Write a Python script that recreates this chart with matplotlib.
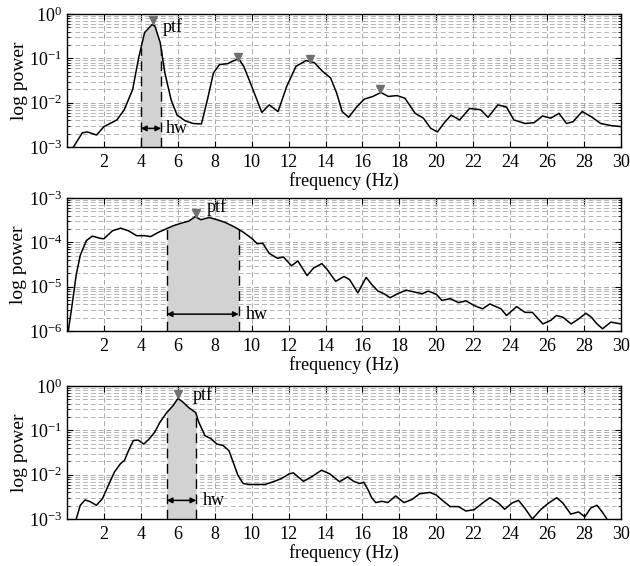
import numpy as np
import matplotlib
matplotlib.use("Agg")
import matplotlib.pyplot as plt
from matplotlib.ticker import LogLocator, LogFormatterMathtext, NullFormatter

plt.rcParams['font.family'] = ['Liberation Serif', 'DejaVu Serif']
plt.rcParams['mathtext.fontset'] = 'custom'
plt.rcParams['mathtext.rm'] = 'Liberation Serif'
plt.rcParams['mathtext.it'] = 'Liberation Serif:italic'
plt.rcParams['axes.unicode_minus'] = False

# ---------------- data (log10 power) ----------------
f1 = [0.2, 0.35, 0.83, 1.1, 1.6, 2.0, 2.7, 3.1, 3.55, 3.9, 4.2, 4.6, 4.76, 5.05, 5.3, 5.64,
      5.96, 6.4, 6.84, 7.28, 7.6, 7.93, 8.26, 8.7, 9.0, 9.3, 9.57, 10.0, 10.55, 10.95, 11.43,
      11.9, 12.4, 12.95, 13.4, 13.83, 14.27, 14.6, 14.9, 15.25, 15.7, 16.1, 16.56, 17.0, 17.4,
      17.87, 18.3, 18.85, 19.3, 19.7, 20.06, 20.4, 20.8, 21.26, 21.8, 22.4, 22.8, 23.33, 23.8,
      24.2, 24.8, 25.3, 25.75, 26.2, 26.64, 27.05, 27.4, 27.9, 28.4, 28.9, 29.5, 30.0]
p1 = [-3.3, -3.0, -2.68, -2.66, -2.73, -2.54, -2.39, -2.16, -1.71, -0.95, -0.42, -0.24, -0.27,
      -0.65, -1.33, -1.94, -2.28, -2.41, -2.47, -2.48, -1.94, -1.33, -1.14, -1.12, -1.06, -1.01,
      -1.18, -1.63, -2.22, -2.05, -2.2, -1.63, -1.18, -1.05, -1.1, -1.29, -1.44, -1.78, -2.2,
      -2.33, -2.09, -1.92, -1.86, -1.77, -1.86, -1.84, -1.9, -2.24, -2.35, -2.58, -2.66, -2.47,
      -2.28, -2.39, -2.13, -2.16, -2.33, -2.05, -2.1, -2.39, -2.47, -2.45, -2.3, -2.35, -2.24,
      -2.47, -2.43, -2.2, -2.32, -2.47, -2.52, -2.54]

f2 = [0.07, 0.28, 0.5, 0.72, 1.05, 1.37, 1.8, 2.0, 2.46, 2.9, 3.33, 3.77, 4.2, 4.53, 4.97, 5.3,
      5.73, 6.17, 6.6, 6.95, 7.25, 7.7, 8.13, 8.56, 9.1, 9.54, 10.0, 10.3, 10.6, 10.95, 11.4,
      11.72, 12.16, 12.5, 13.0, 13.35, 13.8, 14.1, 14.55, 15.0, 15.3, 15.75, 16.2, 16.5, 16.84,
      17.17, 17.5, 17.9, 18.37, 18.8, 19.24, 19.56, 20.0, 20.3, 20.76, 21.2, 21.6, 22.07, 22.5,
      22.9, 23.5, 23.8, 24.35, 24.8, 25.2, 25.77, 26.2, 26.5, 26.86, 27.3, 27.7, 28.1, 28.4,
      28.7, 29.0, 29.45, 30.0]
p2 = [-6.0, -5.4, -4.73, -4.29, -3.96, -3.86, -3.91, -3.92, -3.74, -3.68, -3.74, -3.85, -3.85,
      -3.87, -3.77, -3.71, -3.63, -3.57, -3.52, -3.42, -3.49, -3.44, -3.49, -3.55, -3.66, -3.77,
      -3.91, -4.03, -4.02, -4.25, -4.36, -4.33, -4.53, -4.42, -4.75, -4.58, -4.48, -4.62, -4.88,
      -4.77, -4.84, -5.14, -4.79, -4.95, -5.1, -5.16, -5.25, -5.16, -5.08, -5.12, -5.16, -5.1,
      -5.17, -5.31, -5.27, -5.36, -5.32, -5.43, -5.5, -5.39, -5.5, -5.65, -5.45, -5.58, -5.58,
      -5.84, -5.76, -5.65, -5.69, -5.84, -5.73, -5.6, -5.69, -5.84, -5.95, -5.8, -5.84]

f3 = [0.3, 0.5, 0.72, 0.98, 1.26, 1.59, 1.92, 2.24, 2.57, 2.9, 3.11, 3.33, 3.59, 3.85, 4.16,
      4.46, 4.75, 5.03, 5.4, 5.73, 6.01, 6.27, 6.6, 6.97, 7.14, 7.47, 7.8, 8.12, 8.45, 8.77,
      9.0, 9.25, 9.54, 9.86, 10.73, 11.17, 11.6, 12.04, 12.26, 12.8, 13.24, 13.78, 14.22,
      14.76, 15.2, 15.52, 15.85, 16.07, 16.3, 16.5, 16.72, 17.05, 17.37, 17.8, 18.25, 18.68,
      19.1, 19.66, 20.0, 20.3, 20.75, 21.2, 21.6, 22.05, 22.5, 22.9, 23.36, 23.7, 24.1, 24.45,
      24.78, 25.2, 25.65, 26.08, 26.52, 26.85, 27.28, 27.7, 28.04, 28.37, 28.7, 28.98, 29.24,
      29.6, 30.0]
p3 = [-3.4, -3.0, -2.69, -2.57, -2.61, -2.69, -2.54, -2.24, -1.94, -1.75, -1.68, -1.46, -1.23,
      -1.22, -1.31, -1.19, -1.04, -0.82, -0.6, -0.45, -0.28, -0.36, -0.49, -0.6, -0.82, -1.12,
      -1.19, -1.31, -1.34, -1.46, -1.72, -2.01, -2.2, -2.22, -2.22, -2.16, -2.09, -1.98, -1.96,
      -2.15, -2.05, -1.9, -1.98, -2.16, -2.05, -2.15, -2.2, -2.17, -2.34, -2.52, -2.63, -2.6,
      -2.63, -2.48, -2.63, -2.56, -2.43, -2.4, -2.46, -2.57, -2.72, -2.72, -2.82, -2.79, -2.64,
      -2.52, -2.64, -2.78, -2.64, -2.58, -2.75, -3.0, -2.79, -2.64, -2.52, -2.64, -2.89, -2.84,
      -2.95, -2.75, -2.69, -2.84, -3.0, -3.3, -3.5]

# peak markers (frequency, log10 power of marker)
peaks1_f = [4.67, 9.26, 13.15, 16.93]
peaks1_p = [-0.14, -0.96, -1.01, -1.70]
peaks2_f = [7.0]
peaks2_p = [-3.34]
peaks3_f = [6.0]
peaks3_p = [-0.19]

# shaded half-width bands
band1 = (4.0, 5.1)
band2 = (5.4, 9.3)
band3 = (5.4, 7.0)
arrow_y = [-2.58, -5.62, -2.58]
hw_x = [5.37, 9.7, 7.36]
ptf_x = [5.2, 7.58, 6.82]
ptf_y = [-0.3, -3.2, -0.2]
ylims = [(-3, 0), (-6, -3), (-3, 0)]

xticks = list(range(2, 31, 2))

# ---------------- figure ----------------
W, H = 630, 566
fig = plt.figure(figsize=(W / 100, H / 100), dpi=100)

tops = [14, 198, 386]
ax_h = 133
left, right = 67, 621

panels = [(f1, p1, peaks1_f, peaks1_p, band1),
          (f2, p2, peaks2_f, peaks2_p, band2),
          (f3, p3, peaks3_f, peaks3_p, band3)]

for i, (f, p, pkf, pkp, band) in enumerate(panels):
    top = tops[i]
    ax = fig.add_axes([left / W, 1 - (top + ax_h) / H, (right - left) / W, ax_h / H])
    f = np.asarray(f, float)
    lp = np.asarray(p, float)
    pw = 10 ** lp
    ylo, yhi = 10.0 ** ylims[i][0], 10.0 ** ylims[i][1]

    # shaded band under curve
    fb = np.linspace(band[0], band[1], 200)
    yb = np.interp(fb, f, lp)
    ax.fill_between(fb, ylo, 10 ** yb, color='#d2d2d2', lw=0, zorder=1)
    for xe in band:
        ye = 10 ** np.interp(xe, f, lp)
        ax.plot([xe, xe], [ylo, ye], color='black', lw=1.0, ls=(0, (7, 4)), zorder=3)

    ax.plot(f, pw, color='black', lw=1.1, zorder=4)
    ax.plot(pkf, 10 ** np.asarray(pkp), marker='v', ls='none', color='#707070',
            ms=6, zorder=5)

    # hw arrow
    ya = 10 ** arrow_y[i]
    ax.annotate('', xy=(band[0], ya), xytext=(band[1], ya),
                arrowprops=dict(arrowstyle='<|-|>', color='black', lw=1.1,
                                shrinkA=0, shrinkB=0, mutation_scale=8), zorder=6)
    ax.text(hw_x[i], ya, 'hw', fontsize=13, va='center', ha='left', zorder=6)
    ax.text(ptf_x[i], 10 ** ptf_y[i], 'ptf', fontsize=13, va='center', ha='left', zorder=6)

    ax.set_xlim(0, 30)
    ax.set_ylim(ylo, yhi)
    ax.set_yscale('log')
    ax.set_xticks(xticks)
    ax.set_xticklabels([str(t) for t in xticks])
    ax.yaxis.set_major_locator(LogLocator(base=10, numticks=10))
    ax.yaxis.set_minor_locator(LogLocator(base=10, subs=np.arange(2, 10), numticks=20))
    ax.yaxis.set_major_formatter(LogFormatterMathtext())
    ax.yaxis.set_minor_formatter(NullFormatter())

    ax.grid(True, which='major', axis='both', color='#a8a8a8', ls=(0, (5, 3)), lw=0.7, zorder=0)
    ax.grid(True, which='minor', axis='y', color='#b4b4b4', ls=(0, (5, 3)), lw=0.7, zorder=0)
    ax.set_axisbelow(True)

    ax.tick_params(which='both', direction='in', top=True, right=True, labelsize=13,
                   colors='black')
    ax.tick_params(axis='x', which='major', pad=5)
    ax.tick_params(which='major', length=4, width=0.8)
    ax.tick_params(which='minor', length=2, width=0.6)
    for s in ax.spines.values():
        s.set_linewidth(1.0)

    ax.set_xlabel('frequency (Hz)', fontsize=13, labelpad=1)
    ax.set_ylabel('log power', fontsize=14, labelpad=1)

fig.savefig('out.png', dpi=100)
